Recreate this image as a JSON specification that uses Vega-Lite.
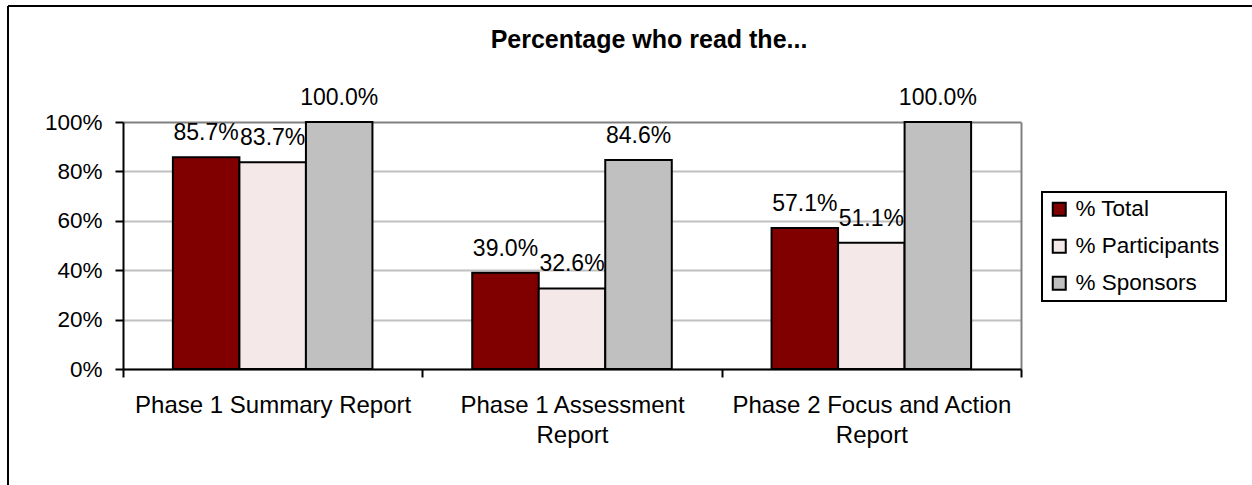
{
  "$schema": "https://vega.github.io/schema/vega-lite/v6.json",
  "width": 1244,
  "height": 479,
  "autosize": {"type": "none"},
  "padding": {"left": 8, "top": 6, "right": 0, "bottom": 0},
  "background": "white",
  "view": {"stroke": "black", "strokeWidth": 2, "strokeDash": [1244, 1723, 479, 0], "fill": "white"},
  "title": {
    "text": "Percentage who read the...",
    "fontSize": 25,
    "fontWeight": "bold",
    "color": "black",
    "anchor": "middle",
    "frame": "group",
    "dx": 19,
    "offset": -67,
    "baseline": "alphabetic"
  },
  "data": {
    "values": [
      {"report": "Phase 1 Summary Report", "series": "% Total", "value": 0.857},
      {"report": "Phase 1 Summary Report", "series": "% Participants", "value": 0.837},
      {"report": "Phase 1 Summary Report", "series": "% Sponsors", "value": 1.0},
      {"report": "Phase 1 Assessment Report", "series": "% Total", "value": 0.39},
      {"report": "Phase 1 Assessment Report", "series": "% Participants", "value": 0.326},
      {"report": "Phase 1 Assessment Report", "series": "% Sponsors", "value": 0.846},
      {"report": "Phase 2 Focus and Action Report", "series": "% Total", "value": 0.571},
      {"report": "Phase 2 Focus and Action Report", "series": "% Participants", "value": 0.511},
      {"report": "Phase 2 Focus and Action Report", "series": "% Sponsors", "value": 1.0}
    ]
  },
  "encoding": {
    "x": {
      "field": "report",
      "type": "nominal",
      "sort": ["Phase 1 Summary Report", "Phase 1 Assessment Report", "Phase 2 Focus and Action Report"],
      "scale": {"range": [115, 1013], "paddingInner": 0, "paddingOuter": 0},
      "axis": {
        "orient": "bottom",
        "offset": -116,
        "tickBand": "extent",
        "title": null,
        "labelAngle": 0,
        "domainColor": "black",
        "domainWidth": 2,
        "tickColor": "black",
        "tickWidth": 2,
        "tickSize": 8,
        "labelFontSize": 24,
        "labelColor": "black",
        "labelPadding": 16,
        "labelLineHeight": 30,
        "labelLimit": 500,
        "labelExpr": "datum.label == 'Phase 1 Assessment Report' ? ['Phase 1 Assessment', 'Report'] : datum.label == 'Phase 2 Focus and Action Report' ? ['Phase 2 Focus and Action', 'Report'] : datum.label",
        "grid": false,
        "zindex": 1
      }
    },
    "xOffset": {
      "field": "series",
      "type": "nominal",
      "sort": ["% Total", "% Participants", "% Sponsors"],
      "scale": {"paddingInner": 0, "paddingOuter": 0.75}
    }
  },
  "layer": [
    {
      "mark": {"type": "bar", "stroke": "black", "strokeWidth": 2},
      "encoding": {
        "y": {
          "field": "value",
          "type": "quantitative",
          "scale": {"domain": [0, 1], "range": [363, 116], "nice": false, "zero": true},
          "axis": {
            "orient": "left",
            "offset": -115,
            "values": [0, 0.2, 0.4, 0.6, 0.8, 1],
            "format": ".0%",
            "title": null,
            "domainColor": "black",
            "domainWidth": 2,
            "tickColor": "black",
            "tickWidth": 2,
            "tickSize": 8,
            "labelFontSize": 22.5,
            "labelColor": "black",
            "labelPadding": 13,
            "grid": true,
            "gridColor": {"condition": {"test": "datum.value >= 1", "value": "#808080"}, "value": "#c0c0c0"},
            "gridWidth": 2
          }
        },
        "color": {
          "field": "series",
          "type": "nominal",
          "sort": ["% Total", "% Participants", "% Sponsors"],
          "scale": {"domain": ["% Total", "% Participants", "% Sponsors"], "range": ["#800000", "#f4e8e8", "#c0c0c0"]},
          "legend": {
            "orient": "none",
            "legendX": 1034,
            "legendY": 186,
            "title": null,
            "symbolType": "square",
            "symbolSize": 169,
            "symbolStrokeColor": "black",
            "symbolStrokeWidth": 2,
            "labelFontSize": 22.5,
            "labelColor": "black",
            "labelOffset": 5,
            "labelLimit": 400,
            "padding": 6,
            "rowPadding": 14,
            "strokeColor": "black",
            "fillColor": "white",
            "labelExpr": "datum.label + '\u00a0\u00a0\u00a0'",
            "encode": {
              "legend": {"update": {"strokeWidth": {"value": 2}}},
              "symbols": {"update": {"stroke": {"value": "black"}, "strokeWidth": {"value": 2}}}
            }
          }
        }
      }
    },
    {
      "mark": {"type": "text", "baseline": "alphabetic", "dy": -17, "fontSize": 23, "color": "black"},
      "encoding": {
        "y": {
          "field": "value",
          "type": "quantitative",
          "scale": {"domain": [0, 1], "range": [363, 116], "nice": false, "zero": true},
          "axis": {
            "orient": "right",
            "offset": -231,
            "domainColor": "#808080",
            "domainWidth": 2,
            "ticks": false,
            "labels": false,
            "grid": false,
            "title": null
          }
        },
        "text": {"field": "value", "type": "quantitative", "format": ".1%"}
      }
    }
  ],
  "resolve": {"axis": {"y": "independent"}},
  "config": {
    "font": "Liberation Sans",
    "text": {"font": "Liberation Sans"}
  }
}
